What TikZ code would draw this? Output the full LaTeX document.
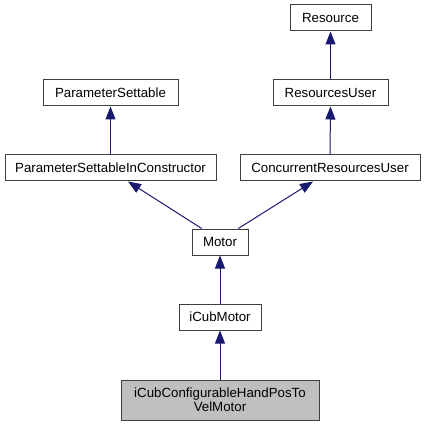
\documentclass[tikz,border=0pt]{standalone}
\usepackage{fontspec}
\setmainfont{Liberation Sans}
\usetikzlibrary{arrows.meta}
\definecolor{edgeblue}{HTML}{191970}
\definecolor{boxline}{HTML}{404040}
\definecolor{boxfill}{HTML}{BFBFBF}
\begin{document}
\begin{tikzpicture}[x=1pt,y=-1pt,
  cls/.style={draw=boxline,line width=1pt,fill=white,inner sep=0pt,minimum height=26pt,
    font=\fontsize{13.3}{14}\selectfont,align=center},
  edge/.style={draw=edgeblue,line width=1pt,-{Triangle[length=13pt,width=10pt]}}]
\useasboundingbox (0,0) rectangle (425,427);
\node[cls,minimum width=81pt] (res) at (330.5,18) {Resource};
\node[cls,minimum width=115pt] (ru) at (330.5,93) {ResourcesUser};
\node[cls,minimum width=135pt] (ps) at (110.5,93) {ParameterSettable};
\node[cls,minimum width=211pt] (psic) at (110.5,168) {ParameterSettableInConstructor};
\node[cls,minimum width=180pt] (cru) at (330,168) {ConcurrentResourcesUser};
\node[cls,minimum width=56pt] (motor) at (220,242) {Motor};
\node[cls,minimum width=82pt] (icm) at (220,317) {iCubMotor};
\node[cls,fill=boxfill,minimum width=198pt,minimum height=40pt] (hand) at (220,400) {iCubConfigurableHandPosTo\\VelMotor};
\draw[edge] (ru.north) -- (res.south);
\draw[edge] (cru.north) -- (ru.south);
\draw[edge] (psic.north) -- (ps.south);
\draw[edge] ([xshift=-18.3pt]motor.north) -- ([xshift=17.5pt]psic.south);
\draw[edge] ([xshift=18.3pt]motor.north) -- ([xshift=-17pt]cru.south);
\draw[edge] (icm.north) -- (motor.south);
\draw[edge] (hand.north) -- (icm.south);
\end{tikzpicture}
\end{document}
